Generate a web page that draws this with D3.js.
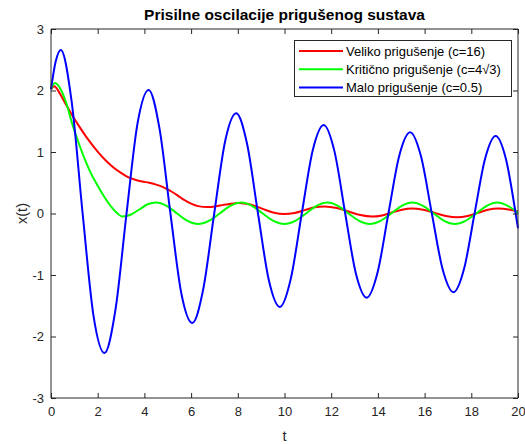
<!DOCTYPE html>
<html><head><meta charset="utf-8">
<script src="https://cdn.jsdelivr.net/npm/d3@7"></script>
<style>
body{margin:0;background:#fff}
svg{display:block;font-family:"Liberation Sans",Arial,Helvetica,sans-serif}
</style>
</head><body>
<svg id="chart" width="525" height="444"></svg>
<script>
// ---- data ----
const chartTitle = "Prisilne oscilacije prigušenog sustava";
const xLabel = "t";
const yLabel = "x(t)";
const xTicks = [0, 2, 4, 6, 8, 10, 12, 14, 16, 18, 20];
const yTicks = [-3, -2, -1, 0, 1, 2, 3];
const seriesNames = ["Veliko prigušenje (c=16)", "Kritično prigušenje (c=4√3)", "Malo prigušenje (c=0.5)"];

const redT = [0, 0.14, 0.35, 0.6, 0.9, 1.2, 1.5, 1.8, 2.1, 2.4, 2.7, 3.0, 3.3, 3.6, 3.9, 4.2, 4.5, 4.8, 5.1, 5.4, 5.7, 6.0, 6.3, 6.7, 7.04, 7.38, 7.71, 8.05, 8.54, 9.03, 9.51, 10.0, 10.43, 10.86, 11.29, 11.72, 12.24, 12.74, 13.25, 13.75, 14.18, 14.6, 15.03, 15.45, 15.94, 16.43, 16.91, 17.4, 17.84, 18.28, 18.71, 19.15, 19.6, 20];
const redX = [2.02, 2.07, 1.97, 1.8, 1.6, 1.42, 1.25, 1.1, 0.96, 0.84, 0.74, 0.66, 0.59, 0.55, 0.52, 0.5, 0.47, 0.43, 0.37, 0.3, 0.22, 0.16, 0.12, 0.105, 0.115, 0.14, 0.16, 0.17, 0.145, 0.08, 0.016, -0.01, 0.008, 0.055, 0.1, 0.115, 0.09, 0.032, -0.026, -0.05, -0.031, 0.015, 0.061, 0.08, 0.06, 0.01, -0.04, -0.06, -0.04, 0.01, 0.06, 0.08, 0.065, 0.03];

const greenT = [0, 0.17, 0.4, 0.65, 0.9, 1.2, 1.45, 1.7, 2.0, 2.3, 2.6, 2.85, 3.05, 3.41, 3.78, 4.14, 4.5, 4.95, 5.4, 5.85, 6.3, 6.76, 7.22, 7.68, 8.15, 8.61, 9.07, 9.53, 10.0, 10.46, 10.92, 11.37, 11.83, 12.29, 12.74, 13.2, 13.65, 14.11, 14.57, 15.02, 15.48, 15.93, 16.39, 16.84, 17.3, 17.75, 18.21, 18.66, 19.12, 19.56, 20];
const greenX = [2.02, 2.12, 2.03, 1.8, 1.47, 1.13, 0.88, 0.66, 0.45, 0.26, 0.1, 0.0, -0.05, -0.02, 0.065, 0.15, 0.18, 0.125, 0, -0.12, -0.17, -0.12, 0, 0.125, 0.18, 0.125, 0, -0.12, -0.17, -0.12, 0, 0.125, 0.18, 0.125, 0, -0.12, -0.17, -0.12, 0, 0.125, 0.18, 0.125, 0, -0.12, -0.17, -0.12, 0, 0.125, 0.18, 0.125, 0.01];

const blueT = [0, 0.2, 0.42, 0.8875, 1.355, 1.8225, 2.29, 2.7625, 3.235, 3.7075, 4.18, 4.6475, 5.115, 5.5825, 6.05, 6.52, 6.99, 7.46, 7.93, 8.3975, 8.865, 9.3325, 9.80, 10.27, 10.74, 11.21, 11.68, 12.14, 12.60, 13.06, 13.52, 13.985, 14.45, 14.915, 15.38, 15.845, 16.31, 16.775, 17.24, 17.69, 18.14, 18.59, 19.04, 19.48, 19.9, 20];
const blueX = [2.02, 2.47, 2.66, 1.81, 0, -1.67, -2.27, -1.56, 0, 1.47, 2.01, 1.38, 0, -1.30, -1.78, -1.23, 0, 1.18, 1.63, 1.13, 0, -1.09, -1.52, -1.06, 0, 1.03, 1.44, 1.01, 0, -0.98, -1.37, -0.96, 0, 0.94, 1.32, 0.93, 0, -0.91, -1.28, -0.90, 0, 0.89, 1.26, 0.89, 0, -0.24];

// ---- styling / layout ----
const colors = ["#ff0000", "#00ff00", "#0000ff"];
const axisColor = "#262626";
const W = 525, H = 444;
const m = {left: 51, right: 7, top: 29, bottom: 46};

const svg = d3.select("#chart");
const x = d3.scaleLinear().domain([0, 20]).range([m.left, W - m.right]);
const y = d3.scaleLinear().domain([-3, 3]).range([H - m.bottom, m.top]);

const series = [
  {name: seriesNames[0], t: redT, v: redX},
  {name: seriesNames[1], t: greenT, v: greenX},
  {name: seriesNames[2], t: blueT, v: blueX}
];

const line = d3.line().x(d => x(d[0])).y(d => y(d[1])).curve(d3.curveMonotoneX);
const plot = svg.append("g");
series.forEach((s, i) => {
  plot.append("path")
    .datum(s.t.map((t, j) => [t, s.v[j]]))
    .attr("d", line)
    .attr("fill", "none")
    .attr("stroke", colors[i])
    .attr("stroke-width", 2)
    .attr("stroke-linejoin", "round");
});

// axes (ticks inward, box on all sides)
const tl = 5;
const fmt = d => String(d); // plain hyphen-minus as in reference
const bottomAxis = d3.axisBottom(x).tickValues(xTicks).tickSize(-tl).tickPadding(9).tickFormat(fmt);
const topAxis = d3.axisTop(x).tickValues(xTicks).tickSize(-tl).tickFormat("");
const leftAxis = d3.axisLeft(y).tickValues(yTicks).tickSize(-tl).tickPadding(7).tickFormat(fmt);
const rightAxis = d3.axisRight(y).tickValues(yTicks).tickSize(-tl).tickFormat("");

function style(g) {
  g.select(".domain").attr("stroke", axisColor).attr("stroke-width", 1);
  g.selectAll(".tick line").attr("stroke", axisColor);
  g.selectAll(".tick text").attr("fill", axisColor).attr("font-size", 13)
    .attr("font-family", "'Liberation Sans', Arial, sans-serif");
}
svg.append("g").attr("transform", `translate(0,${H - m.bottom})`).call(bottomAxis).call(style)
  .call(g => g.select(".domain").attr("d", `M${m.left},0H${W - m.right}`));
svg.append("g").attr("transform", `translate(0,${m.top})`).call(topAxis).call(style)
  .call(g => g.select(".domain").attr("d", `M${m.left},0H${W - m.right}`));
svg.append("g").attr("transform", `translate(${m.left},0)`).call(leftAxis).call(style)
  .call(g => g.select(".domain").attr("d", `M0,${m.top}V${H - m.bottom}`));
svg.append("g").attr("transform", `translate(${W - m.right},0)`).call(rightAxis).call(style)
  .call(g => g.select(".domain").attr("d", `M0,${m.top}V${H - m.bottom}`));

// title and labels
svg.append("text").attr("x", (m.left + W - m.right) / 2).attr("y", 20)
  .attr("text-anchor", "middle").attr("font-weight", "bold").attr("font-size", 15.5)
  .attr("fill", "#000").text(chartTitle);
svg.append("text").attr("x", (m.left + W - m.right) / 2).attr("y", 441)
  .attr("text-anchor", "middle").attr("font-size", 14.5).attr("fill", axisColor).text(xLabel);
svg.append("text").attr("transform", `translate(27,${(m.top + H - m.bottom) / 2}) rotate(-90)`)
  .attr("text-anchor", "middle").attr("font-size", 14.5).attr("fill", axisColor).text(yLabel);

// legend
const lg = svg.append("g");
const lgX = 294, lgY = 40, lgW = 217, lgH = 56, rowH = 18.3;
lg.append("rect").attr("x", lgX + 0.5).attr("y", lgY + 0.5).attr("width", lgW).attr("height", lgH)
  .attr("fill", "#fff").attr("stroke", axisColor).attr("stroke-width", 1);
series.forEach((s, i) => {
  const cy = lgY + 11 + i * rowH;
  lg.append("line").attr("x1", lgX + 5).attr("x2", lgX + 49).attr("y1", cy).attr("y2", cy)
    .attr("stroke", colors[i]).attr("stroke-width", 2);
  lg.append("text").attr("x", lgX + 52).attr("y", cy).attr("dy", "0.35em")
    .attr("font-size", 13).attr("fill", "#000").text(s.name);
});
</script>
</body></html>
